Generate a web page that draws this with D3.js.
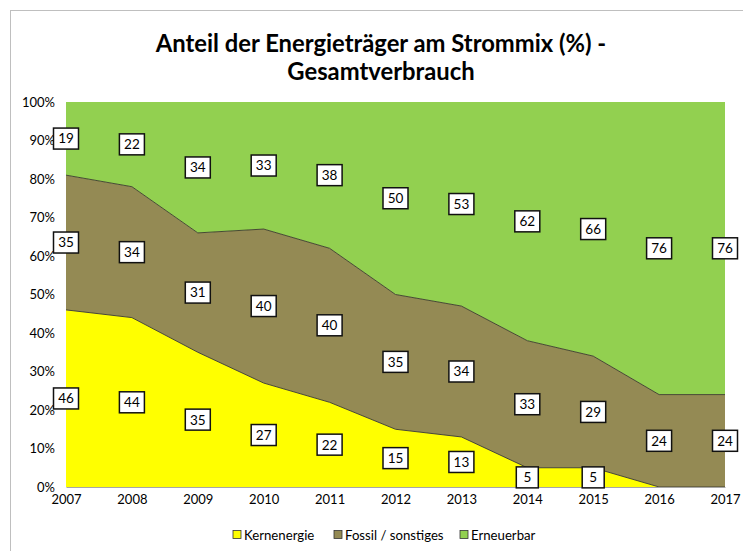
<!DOCTYPE html>
<html>
<head>
<meta charset="utf-8">
<script src="https://cdn.jsdelivr.net/npm/d3@7"></script>
<style>
  body { margin: 0; background: #fff; }
  svg text { font-family: Lato, "Open Sans", sans-serif; }
</style>
</head>
<body>
<div id="chart"></div>
<script>
var years = [2007, 2008, 2009, 2010, 2011, 2012, 2013, 2014, 2015, 2016, 2017];
var kernenergie = [46, 44, 35, 27, 22, 15, 13, 5, 5, 0, 0];
var fossil = [35, 34, 31, 40, 40, 35, 34, 33, 29, 24, 24];
var erneuerbar = [19, 22, 34, 33, 38, 50, 53, 62, 66, 76, 76];
var seriesNames = ["Kernenergie", "Fossil / sonstiges", "Erneuerbar"];
var colors = ["#FFFF00", "#948A54", "#92D050"];
var yTicks = [0, 10, 20, 30, 40, 50, 60, 70, 80, 90, 100];

var width = 743, height = 551;
var margin = {top: 102, right: 18, bottom: 64, left: 66};

var svg = d3.select("#chart").append("svg")
  .attr("width", width)
  .attr("height", height);

// outer frame (only top/left visible)
svg.append("rect")
  .attr("x", 10.5).attr("y", 10.5)
  .attr("width", 800).attr("height", 600)
  .attr("fill", "none")
  .attr("stroke", "#bfbfbf")
  .attr("stroke-width", 1);

// title
var title = svg.append("text")
  .attr("text-anchor", "middle")
  .attr("font-weight", "bold")
  .attr("font-size", 23.8)
  .attr("fill", "#000");
title.append("tspan").attr("x", 381).attr("y", 52).text("Anteil der Energieträger am Strommix (%) -");
title.append("tspan").attr("x", 381).attr("y", 80).text("Gesamtverbrauch");

var x = d3.scaleLinear()
  .domain([2007, 2017])
  .range([margin.left, width - margin.right]);

var y = d3.scaleLinear()
  .domain([0, 100])
  .range([height - margin.bottom, margin.top]);

var table = years.map(function(yr, i) {
  return {year: yr, "Kernenergie": kernenergie[i], "Fossil / sonstiges": fossil[i], "Erneuerbar": erneuerbar[i]};
});

var stack = d3.stack().keys(seriesNames);
var layers = stack(table);

var area = d3.area()
  .x(function(d) { return x(d.data.year); })
  .y0(function(d) { return y(d[0]); })
  .y1(function(d) { return y(d[1]); });

svg.selectAll(".layer")
  .data(layers)
  .enter().append("path")
  .attr("class", "layer")
  .attr("d", area)
  .attr("fill", function(d, i) { return colors[i]; });

// boundary lines between areas
var topLine = d3.line()
  .x(function(d) { return x(d.data.year); })
  .y(function(d) { return y(d[1]); });

svg.selectAll(".edge")
  .data(layers.slice(0, 2))
  .enter().append("path")
  .attr("class", "edge")
  .attr("d", topLine)
  .attr("fill", "none")
  .attr("stroke", "#3a3a2a")
  .attr("stroke-width", 0.9);

// axes
var xAxis = svg.append("g")
  .attr("transform", "translate(0," + y(0) + ")")
  .call(d3.axisBottom(x).tickValues(years).tickFormat(d3.format("d")).tickSize(0).tickPadding(8));
xAxis.select(".domain").attr("stroke", "#a6a6a6");
xAxis.selectAll("text").attr("font-size", 13).attr("fill", "#000").style("font-family", "Lato, sans-serif");

var yAxis = svg.append("g")
  .attr("transform", "translate(" + x(2007) + ",0)")
  .call(d3.axisLeft(y).tickValues(yTicks).tickFormat(function(d) { return d + "%"; }).tickSize(0).tickPadding(11));
yAxis.select(".domain").remove();
yAxis.selectAll("text").attr("font-size", 13).attr("fill", "#000").style("font-family", "Lato, sans-serif");

// data labels
var labels = [];
layers.forEach(function(layer) {
  layer.forEach(function(d) {
    var v = d[1] - d[0];
    if (v > 0) labels.push({year: d.data.year, v: v, mid: (d[0] + d[1]) / 2});
  });
});

var lab = svg.selectAll(".lab")
  .data(labels)
  .enter().append("g")
  .attr("class", "lab")
  .attr("transform", function(d) { return "translate(" + x(d.year) + "," + y(d.mid) + ")"; });

lab.append("rect")
  .attr("x", function(d) { return d.v < 10 ? -11 : -12.5; })
  .attr("y", -10.5)
  .attr("width", function(d) { return d.v < 10 ? 22 : 25; })
  .attr("height", 21)
  .attr("fill", "#fff")
  .attr("stroke", "#111")
  .attr("stroke-width", 1.5);

lab.append("text")
  .attr("text-anchor", "middle")
  .attr("dy", "0.36em")
  .attr("font-size", 13.5)
  .attr("fill", "#000")
  .text(function(d) { return d.v; });

// legend
var legendX = [233, 334, 460];
var legend = svg.selectAll(".legend")
  .data(seriesNames)
  .enter().append("g")
  .attr("class", "legend")
  .attr("transform", function(d, i) { return "translate(" + legendX[i] + ",535)"; });

legend.append("rect")
  .attr("x", 0).attr("y", -4.5)
  .attr("width", 8).attr("height", 8)
  .attr("fill", function(d, i) { return colors[i]; })
  .attr("stroke", "#333")
  .attr("stroke-width", 0.8);

legend.append("text")
  .attr("x", 11)
  .attr("y", 0)
  .attr("dy", "0.35em")
  .attr("font-size", 13.2)
  .attr("fill", "#000")
  .text(function(d) { return d; });
</script>
</body>
</html>
